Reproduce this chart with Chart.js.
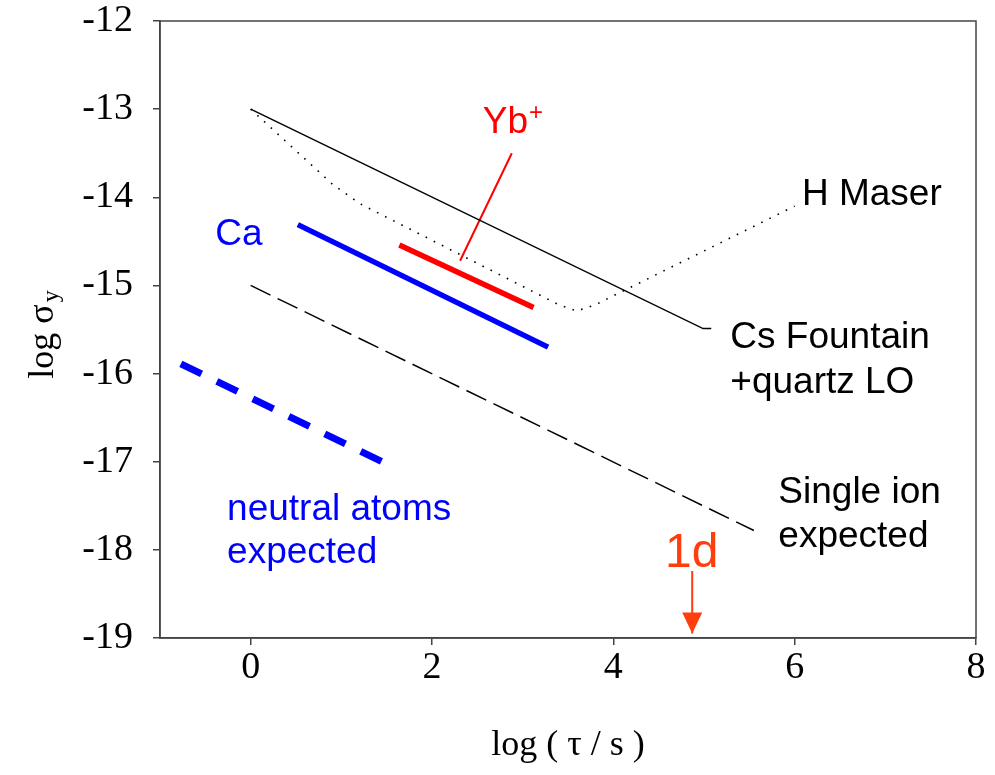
<!DOCTYPE html>
<html>
<head>
<meta charset="utf-8">
<script src="https://cdn.jsdelivr.net/npm/chart.js@4.4.0/dist/chart.umd.min.js"></script>
<style>
  html, body { margin: 0; padding: 0; background: #fff; }
  #wrap { width: 995px; height: 775px; }
</style>
</head>
<body>
<div id="wrap"><canvas id="chart" width="995" height="775"></canvas></div>
<script>
// Axes
const xTicks = [0, 2, 4, 6, 8];
const yTicks = [-19, -18, -17, -16, -15, -14, -13, -12];

// H Maser (dotted)
const maserX = [0, 0.9, 1.2, 3.4, 3.6, 3.8, 6.0];
const maserY = [-13, -13.85, -14.07, -15.22, -15.29, -15.22, -14.1];

// Cs Fountain + quartz LO (thin solid, with a short leader)
const csX = [0, 4.99, 5.08];
const csY = [-13, -15.49, -15.49];

// Single ion expected (thin dashed)
const ionX = [0, 5.55];
const ionY = [-15.0, -17.78];

// Ca (blue)
const caX = [0.52, 3.28];
const caY = [-14.31, -15.70];

// Yb+ (red) and its leader
const ybX = [1.64, 3.12];
const ybY = [-14.54, -15.25];
const ybLeadX = [2.31, 2.88];
const ybLeadY = [-14.72, -13.50];

// neutral atoms expected (thick blue dashed)
const neutralX = [-0.77, 1.45];
const neutralY = [-15.89, -17.0];

// one day
const dayX = [4.87, 4.87];
const dayY = [-18.24, -18.95];

const pts = (xs, ys) => xs.map((x, i) => ({ x, y: ys[i] }));

function line(data, color, width, dash, cap) {
    return {
        data,
        borderColor: color,
        borderWidth: width,
        borderDash: dash || [],
        borderCapStyle: cap || 'butt',
        pointRadius: 0,
        showLine: true,
        tension: 0,
        fill: false
    };
}

const ORANGE = '#ff3d0d';

// text placed at data coordinates
const notes = [
    { t: 'Ca', x: -0.39, y: -14.43, c: '#0000ff' },
    { t: 'Yb', x: 2.56, y: -13.16, c: '#ff0000', sup: '+' },
    { t: 'H Maser', x: 6.08, y: -13.97, c: '#000' },
    { t: 'Cs Fountain', x: 5.29, y: -15.59, c: '#000' },
    { t: '+quartz LO', x: 5.29, y: -16.10, c: '#000' },
    { t: 'Single ion', x: 5.82, y: -17.35, c: '#000' },
    { t: 'expected', x: 5.82, y: -17.85, c: '#000' },
    { t: 'neutral atoms', x: -0.26, y: -17.54, c: '#0000ff' },
    { t: 'expected', x: -0.26, y: -18.03, c: '#0000ff' },
    { t: '1d', x: 4.57, y: -18.05, c: ORANGE, size: 48 }
];

const notesPlugin = {
    id: 'notes',
    afterDatasetsDraw(chart) {
        const { ctx, scales: { x, y }, chartArea: a } = chart;
        ctx.save();

        // frame
        ctx.strokeStyle = '#444';
        ctx.lineWidth = 1.5;
        ctx.strokeRect(a.left, a.top, a.right - a.left, a.bottom - a.top);

        // labels
        ctx.textBaseline = 'middle';
        ctx.textAlign = 'left';
        notes.forEach(n => {
            const px = x.getPixelForValue(n.x);
            const py = y.getPixelForValue(n.y);
            ctx.fillStyle = n.c;
            ctx.font = (n.size || 37) + 'px "Liberation Sans", Arial, sans-serif';
            ctx.fillText(n.t, px, py);
            if (n.sup) {
                const w = ctx.measureText(n.t).width;
                ctx.font = '24px "Liberation Sans", Arial, sans-serif';
                ctx.fillText(n.sup, px + w + 1, py - 10);
            }
        });

        // arrow head for 1d
        const hx = x.getPixelForValue(dayX[1]);
        const hy = y.getPixelForValue(dayY[1]);
        ctx.fillStyle = ORANGE;
        ctx.beginPath();
        ctx.moveTo(hx, hy);
        ctx.lineTo(hx - 10, hy - 21);
        ctx.lineTo(hx + 10, hy - 21);
        ctx.closePath();
        ctx.fill();

        // axis titles
        ctx.fillStyle = '#000';
        ctx.font = '36px "Liberation Serif", "Times New Roman", serif';
        ctx.textAlign = 'center';
        ctx.fillText('log ( \u03c4 / s )', (a.left + a.right) / 2, 746);

        ctx.translate(44, (a.top + a.bottom) / 2 + 4);
        ctx.rotate(-Math.PI / 2);
        ctx.textAlign = 'left';
        const main = 'log \u03c3';
        const w = ctx.measureText(main).width;
        ctx.fillText(main, -w / 2 - 8, 0);
        ctx.font = '24px "Liberation Serif", "Times New Roman", serif';
        ctx.fillText('y', w / 2 - 6, 8);
        ctx.restore();
    }
};

const tickFont = { family: '"Liberation Serif", "Times New Roman", serif', size: 38 };

new Chart(document.getElementById('chart'), {
    type: 'scatter',
    data: {
        datasets: [
            line(pts(maserX, maserY), '#000', 1.6, [1.6, 7.5]),
            line(pts(csX, csY), '#000', 1.5),
            line(pts(ionX, ionY), '#000', 1.5, [22, 8]),
            line(pts(caX, caY), '#0000ff', 5.5),
            line(pts(ybX, ybY), '#ff0000', 5.5),
            line(pts(ybLeadX, ybLeadY), '#ff0000', 2),
            line(pts(neutralX, neutralY), '#0000ff', 7, [23, 17]),
            line(pts(dayX, dayY), ORANGE, 2)
        ]
    },
    options: {
        responsive: false,
        animation: false,
        events: [],
        layout: { padding: { top: 21, right: 19, left: 0, bottom: 0 } },
        plugins: { legend: { display: false }, tooltip: { enabled: false } },
        scales: {
            x: {
                type: 'linear',
                min: -1,
                max: 8,
                afterBuildTicks: s => { s.ticks = xTicks.map(v => ({ value: v })); },
                afterFit: s => { s.height = 137; s.paddingLeft = 0; s.paddingRight = 0; },
                ticks: { color: '#000', font: tickFont, padding: 0, maxRotation: 0 },
                grid: { drawOnChartArea: false, tickLength: 7, color: '#444', lineWidth: 1.5 },
                border: { color: '#444', width: 1.5 }
            },
            y: {
                type: 'linear',
                min: -19,
                max: -12,
                afterBuildTicks: s => { s.ticks = yTicks.map(v => ({ value: v })); },
                afterFit: s => { s.width = 160; s.paddingTop = 0; s.paddingBottom = 0; },
                ticks: { color: '#000', font: tickFont, padding: 20 },
                grid: { drawOnChartArea: false, tickLength: 7, color: '#444', lineWidth: 1.5 },
                border: { color: '#444', width: 1.5 }
            }
        }
    },
    plugins: [notesPlugin]
});
</script>
</body>
</html>
